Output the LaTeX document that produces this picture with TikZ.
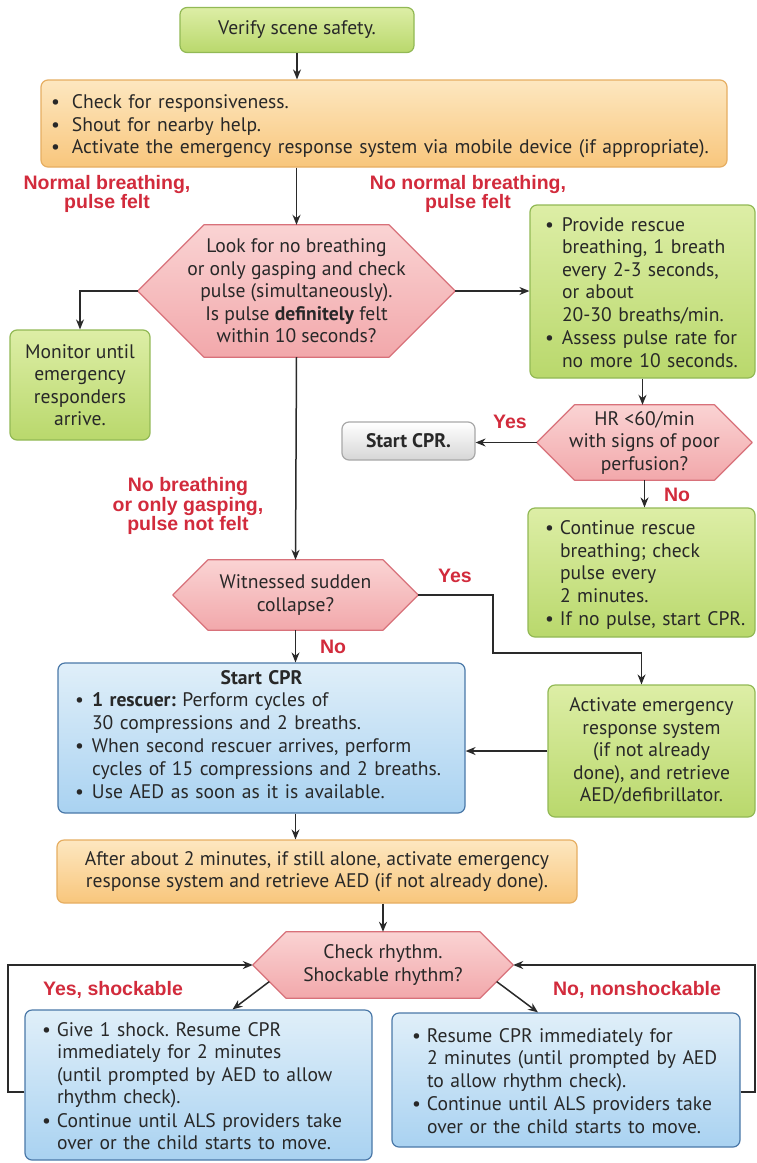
\documentclass[tikz,border=0pt]{standalone}
\usepackage{fontspec}
\setmainfont{PT Sans}
\newfontfamily\labfam{Liberation Sans}
\usepackage{tikz}
\usetikzlibrary{arrows.meta,positioning,calc,backgrounds}
\frenchspacing

\definecolor{txt}{HTML}{282828}
\definecolor{arrcol}{HTML}{2A2A2A}
\definecolor{redlab}{HTML}{D22B3C}
\definecolor{grntop}{HTML}{DDEEA6}
\definecolor{grnbot}{HTML}{B9D86C}
\definecolor{grnline}{HTML}{92B955}
\definecolor{orgtop}{HTML}{FDE7C0}
\definecolor{orgbot}{HTML}{F8C67C}
\definecolor{orgline}{HTML}{E6AE62}
\definecolor{pnktop}{HTML}{FAD3D3}
\definecolor{pnkbot}{HTML}{F2A8AB}
\definecolor{pnkline}{HTML}{D8717A}
\definecolor{blutop}{HTML}{E0EFF9}
\definecolor{blubot}{HTML}{A9D2F1}
\definecolor{bluline}{HTML}{4A78A8}
\definecolor{grytop}{HTML}{FFFFFF}
\definecolor{grybot}{HTML}{D6D6D6}
\definecolor{gryline}{HTML}{A8A8A8}

\newcommand{\bodyfont}{\fontsize{19.6}{22.5}\selectfont}
\newcommand{\labelfont}{\labfam\bfseries\fontsize{19.5}{18}\selectfont}
\newcommand{\bitem}[2][17pt]{\par\noindent\makebox[#1][l]{\textbullet}\begin{tabular}[t]{@{}l@{}}#2\end{tabular}\par}
\newcommand{\hexframe}[1]{%
  \begin{pgfonlayer}{background}
    \path[hexfill] let \p1=(#1.north), \p2=(#1.south), \n1={(\y1-\y2)/2} in
      (#1.west) -- ([xshift=\n1]#1.north west) -- ([xshift=-\n1]#1.north east)
      -- (#1.east) -- ([xshift=-\n1]#1.south east) -- ([xshift=\n1]#1.south west) -- cycle;
  \end{pgfonlayer}}

\tikzset{
  flowbox/.style={rounded corners=7pt, line width=1.2pt, inner sep=0pt, text=txt, font=\bodyfont},
  greenbox/.style={flowbox, draw=grnline, top color=grntop, bottom color=grnbot},
  orangebox/.style={flowbox, draw=orgline, top color=orgtop, bottom color=orgbot},
  bluebox/.style={flowbox, draw=bluline, top color=blutop, bottom color=blubot},
  graybox/.style={flowbox, draw=gryline, top color=grytop, bottom color=grybot},
  hexnode/.style={inner sep=0pt, text=txt, font=\bodyfont, align=center},
  hexfill/.style={draw=pnkline, line width=1.2pt, top color=pnktop, bottom color=pnkbot, line join=round},
  lab/.style={text=redlab, font=\labelfont, align=center, inner sep=0pt},
  arr/.style={draw=arrcol, line width=1.5pt, -{Stealth[length=10pt,width=8pt]}}
}

\begin{document}
\begin{tikzpicture}[x=1pt,y=-1pt]
\begin{pgfonlayer}{background}
  \fill[white] (0,0) rectangle (757,1163);
\end{pgfonlayer}
\useasboundingbox (0,0) rectangle (757,1163);

\node[greenbox, minimum width=234, minimum height=45, align=center] (verify) at (297,30) {Verify scene safety.};
\node[orangebox, minimum width=686, minimum height=87, text width=666, inner xsep=10pt, align=left] (check) at (384,123.5)
  {\bitem[21pt]{Check for responsiveness.}\bitem[21pt]{Shout for nearby help.}\bitem[21pt]{Activate the emergency response system via mobile device (if appropriate).}};

\node[hexnode, minimum width=317, minimum height=132] (look) at (296.5,291)
  {Look for no breathing\\or only gasping and check\\pulse (simultaneously).\\Is pulse \textbf{definitely} felt\\within 10 seconds?};
\hexframe{look}
\node[greenbox, minimum width=140, minimum height=110, align=center] (monitor) at (80,385) {Monitor until\\emergency\\responders\\arrive.};
\node[greenbox, minimum width=225, minimum height=173, text width=195, inner xsep=15pt, align=left] (rescue) at (642.5,291.5)
  {\bitem{Provide rescue\\breathing, 1 breath\\every 2-3 seconds,\\or about\\20-30 breaths/min.}\bitem{Assess pulse rate for\\no more 10 seconds.}};

\node[hexnode, minimum width=215, minimum height=75] (hr) at (644.5,442.5) {HR <60/min\\with signs of poor\\perfusion?};
\hexframe{hr}
\node[graybox, minimum width=133, minimum height=38, font=\bodyfont\bfseries] (startcpr) at (408.5,441) {Start CPR.};
\node[greenbox, minimum width=227, minimum height=129, text width=193, inner xsep=17pt, align=left] (cont) at (641.5,572.5)
  {\bitem[15pt]{Continue rescue\\breathing; check\\pulse every\\2 minutes.}\bitem[15pt]{If no pulse, start CPR.}};

\node[hexnode, minimum width=245, minimum height=70] (witness) at (295.5,595) {Witnessed sudden\\collapse?};
\hexframe{witness}
\node[bluebox, minimum width=407, minimum height=150, text width=373, inner xsep=17pt, align=left] (cpr) at (261.5,738)
  {{\centering\textbf{Start CPR}\par}\bitem{\textbf{1 rescuer:} Perform cycles of\\30 compressions and 2 breaths.}\bitem{When second rescuer arrives, perform\\cycles of 15 compressions and 2 breaths.}\bitem{Use AED as soon as it is available.}};
\node[greenbox, minimum width=207, minimum height=132, align=center] (activate) at (651.5,751)
  {Activate emergency\\response system\\(if not already\\done), and retrieve\\AED/defibrillator.};
\node[orangebox, minimum width=520, minimum height=63, align=center] (alone) at (317,871.5)
  {After about 2 minutes, if still alone, activate emergency\\response system and retrieve AED (if not already done).};

\node[hexnode, minimum width=260, minimum height=66] (rhythm) at (383,965) {Check rhythm.\\Shockable rhythm?};
\hexframe{rhythm}
\node[bluebox, minimum width=347, minimum height=150, text width=313, inner xsep=17pt, align=left] (shock) at (198.5,1085)
  {\bitem[15pt]{Give 1 shock. Resume CPR\\immediately for 2 minutes\\(until prompted by AED to allow\\rhythm check).}\bitem[15pt]{Continue until ALS providers take\\over or the child starts to move.}};
\node[bluebox, minimum width=348, minimum height=134, text width=308, inner xsep=20pt, align=left] (noshock) at (566,1080)
  {\bitem[15pt]{Resume CPR immediately for\\2 minutes (until prompted by AED\\to allow rhythm check).}\bitem[15pt]{Continue until ALS providers take\\over or the child starts to move.}};

\node[lab] (lnormal) at (107,194) {Normal breathing,\\pulse felt};
\node[lab] (lnonormal) at (468,194) {No normal breathing,\\pulse felt};
\node[lab] (lyes1) at (510,422) {Yes};
\node[lab] (lno1) at (677,495) {No};
\node[lab] (lnobreath) at (188,506) {No breathing\\or only gasping,\\pulse not felt};
\node[lab] (lyes2) at (455,576) {Yes};
\node[lab] (lno2) at (333,647) {No};
\node[lab] (lshock) at (113,990) {Yes, shockable};
\node[lab] (lnoshock) at (637,990) {No, nonshockable};

\coordinate (ybend) at (493,653);
\coordinate (sl) at (8,1092);
\coordinate (sr) at (755,1092);

\draw[arr] (verify) -- (verify |- check.north);
\draw[arr] (look.north |- check.south) -- (look.north);
\draw[arr] (look.west) -| (monitor.north);
\draw[arr] (look.east) -- (look.east -| rescue.west);
\draw[arr] (rescue.south) -- (rescue.south |- hr.north);
\draw[arr] (hr.west) -- (hr.west -| startcpr.east);
\draw[arr] (hr.south) -- (hr.south |- cont.north);
\draw[arr] (look.south) -- (witness.north);
\draw[arr] (witness.south) -- (witness.south |- cpr.north);
\draw[arr] (witness.east) -| (ybend) -| (cont.south |- activate.north);
\draw[arr] (activate.west) -- (activate.west -| cpr.east);
\draw[arr] (cpr.south -| witness.south) -- (alone.north -| witness.south);
\draw[arr] (alone.south -| rhythm.north) -- (rhythm.north);
\draw[arr] ($(rhythm.west)!.5!([xshift=33]rhythm.south west)$) -- ([xshift=34]shock.north);
\draw[arr] ($(rhythm.east)!.5!([xshift=-33]rhythm.south east)$) -- ([xshift=-28]noshock.north);
\draw[arr] (shock.west |- sl) -- (sl) |- (rhythm.west);
\draw[arr] (noshock.east |- sr) -- (sr) |- (rhythm.east);
\end{tikzpicture}
\end{document}
